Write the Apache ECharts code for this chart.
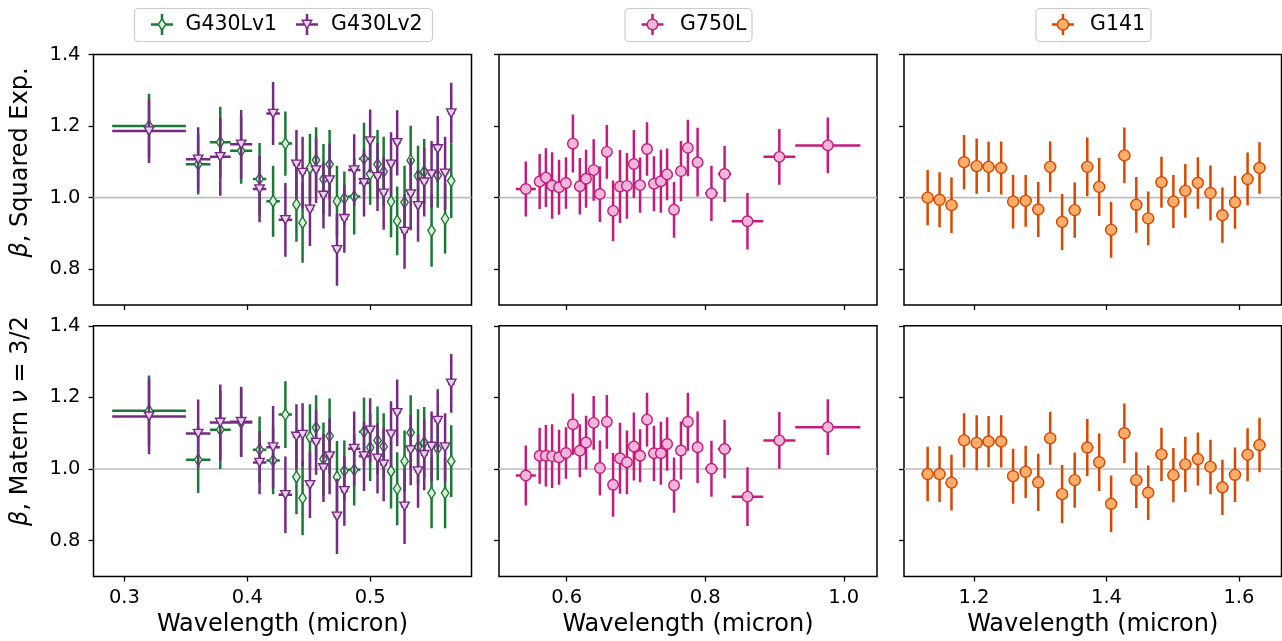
<!DOCTYPE html>
<html>
<head>
<meta charset="utf-8">
<title>Beta scaling per grating</title>
<script src="https://cdn.jsdelivr.net/npm/echarts@6/dist/echarts.min.js"></script>
<style>
  html, body { margin: 0; padding: 0; background: #fff; }
  #chart { width: 1282px; height: 641px; }
</style>
</head>
<body>
<div id="chart"></div>
<script>
// ---- Wavelength bins (micron): centres and half-widths ----
const g430Wave = [0.320, 0.360, 0.378, 0.395, 0.410, 0.421, 0.431, 0.440, 0.445, 0.451,
                  0.456, 0.462, 0.467, 0.473, 0.479, 0.487, 0.495, 0.500, 0.506, 0.511,
                  0.517, 0.522, 0.528, 0.533, 0.539, 0.544, 0.550, 0.555, 0.561, 0.566];
const g430HalfWidth = [0.030, 0.010, 0.0085, 0.009, 0.0055, 0.0055, 0.0055, 0.003, 0.0028, 0.0028,
                       0.0028, 0.0028, 0.0028, 0.0028, 0.0028, 0.005, 0.0042, 0.0027, 0.0027, 0.0027,
                       0.0027, 0.0027, 0.0027, 0.0027, 0.0027, 0.0027, 0.0027, 0.0027, 0.0027, 0.0027];

const g750Wave = [0.541, 0.561, 0.570, 0.579, 0.589, 0.599, 0.609, 0.619, 0.628, 0.639,
                  0.648, 0.658, 0.667, 0.677, 0.687, 0.697, 0.706, 0.716, 0.726, 0.736,
                  0.745, 0.755, 0.765, 0.775, 0.789, 0.809, 0.828, 0.861, 0.907, 0.977];
const g750HalfWidth = [0.0144, 0.0048, 0.0048, 0.0048, 0.0048, 0.0048, 0.0048, 0.0048, 0.0048, 0.0048,
                       0.0048, 0.0048, 0.0048, 0.0048, 0.0048, 0.0048, 0.0048, 0.0048, 0.0048, 0.0048,
                       0.0048, 0.0048, 0.0048, 0.0048, 0.0075, 0.0091, 0.0096, 0.0228, 0.023, 0.047];

const g141Wave = [1.130, 1.148, 1.166, 1.185, 1.204, 1.222, 1.241, 1.259, 1.278, 1.297,
                  1.315, 1.333, 1.352, 1.371, 1.389, 1.407, 1.427, 1.445, 1.463, 1.483,
                  1.501, 1.519, 1.538, 1.557, 1.575, 1.594, 1.613, 1.631];
const g141HalfWidth = g141Wave.map(() => 0.009);

// ---- beta, squared-exponential kernel ----
const g430v1SqBeta = [1.200, 1.093, 1.155, 1.131, 1.052, 0.990, 1.151, 0.981, 0.930, 1.083,
                      1.105, 1.052, 1.093, 0.990, 0.998, 1.003, 1.109, 1.066, 1.093, 1.073,
                      0.989, 0.935, 0.987, 1.104, 1.061, 1.073, 0.908, 1.062, 0.941, 1.047];
const g430v1SqErr  = [0.090, 0.084, 0.099, 0.092, 0.101, 0.099, 0.090, 0.104, 0.112, 0.095,
                      0.092, 0.098, 0.096, 0.099, 0.075, 0.106, 0.100, 0.086, 0.096, 0.097,
                      0.100, 0.096, 0.102, 0.097, 0.084, 0.091, 0.101, 0.090, 0.097, 0.104];
const g430v2SqBeta = [1.186, 1.107, 1.114, 1.149, 1.024, 1.235, 0.938, 1.093, 1.070, 0.967,
                      1.077, 1.006, 1.049, 0.854, 0.941, 1.077, 1.041, 1.158, 1.058, 1.012,
                      1.093, 1.153, 0.905, 1.010, 0.977, 1.043, 1.065, 1.136, 1.068, 1.236];
const g430v2SqErr  = [0.089, 0.090, 0.109, 0.096, 0.093, 0.088, 0.103, 0.096, 0.100, 0.102,
                      0.092, 0.092, 0.102, 0.100, 0.095, 0.100, 0.094, 0.088, 0.095, 0.102,
                      0.090, 0.091, 0.104, 0.101, 0.100, 0.096, 0.093, 0.092, 0.102, 0.085];
const g750SqBeta = [1.024, 1.045, 1.056, 1.034, 1.029, 1.041, 1.151, 1.032, 1.053, 1.077,
                    1.010, 1.128, 0.963, 1.031, 1.033, 1.094, 1.035, 1.136, 1.039, 1.046,
                    1.065, 0.966, 1.074, 1.139, 1.099, 1.012, 1.066, 0.934, 1.114, 1.146];
const g750SqErr  = [0.077, 0.077, 0.082, 0.093, 0.077, 0.072, 0.081, 0.079, 0.081, 0.086,
                    0.078, 0.075, 0.085, 0.102, 0.092, 0.095, 0.077, 0.075, 0.077, 0.088,
                    0.072, 0.078, 0.084, 0.079, 0.096, 0.077, 0.078, 0.079, 0.078, 0.078];
const g141SqBeta = [1.000, 0.994, 0.979, 1.099, 1.088, 1.086, 1.083, 0.989, 0.991, 0.967,
                    1.086, 0.932, 0.965, 1.086, 1.030, 0.910, 1.118, 0.980, 0.942, 1.043,
                    0.989, 1.019, 1.041, 1.013, 0.951, 0.987, 1.052, 1.083];
const g141SqErr  = [0.077, 0.077, 0.078, 0.076, 0.077, 0.070, 0.074, 0.075, 0.072, 0.077,
                    0.071, 0.078, 0.077, 0.082, 0.081, 0.078, 0.078, 0.078, 0.075, 0.071,
                    0.074, 0.075, 0.072, 0.077, 0.077, 0.074, 0.074, 0.072];

// ---- beta, Matern nu = 3/2 kernel ----
const g430v1MatBeta = [1.163, 1.026, 1.110, 1.130, 1.054, 1.024, 1.152, 0.978, 0.919, 1.089,
                       1.116, 1.028, 1.092, 0.978, 0.995, 0.998, 1.104, 1.060, 1.080, 1.063,
                       0.994, 0.945, 1.022, 1.102, 1.062, 1.074, 0.933, 1.057, 0.933, 1.022];
const g430v1MatErr  = [0.098, 0.093, 0.110, 0.095, 0.093, 0.094, 0.093, 0.104, 0.104, 0.092,
                       0.090, 0.102, 0.105, 0.100, 0.085, 0.100, 0.096, 0.093, 0.095, 0.093,
                       0.104, 0.102, 0.086, 0.104, 0.105, 0.099, 0.098, 0.088, 0.098, 0.100];
const g430v2MatBeta = [1.147, 1.099, 1.130, 1.132, 1.018, 1.061, 0.928, 1.091, 1.096, 0.956,
                       1.074, 1.003, 1.036, 0.868, 0.939, 1.057, 1.036, 1.108, 1.030, 1.013,
                       1.097, 1.157, 0.896, 1.053, 0.994, 1.040, 1.063, 1.135, 1.061, 1.239];
const g430v2MatErr  = [0.106, 0.095, 0.106, 0.098, 0.088, 0.115, 0.107, 0.090, 0.088, 0.093,
                       0.090, 0.095, 0.106, 0.105, 0.097, 0.104, 0.097, 0.090, 0.098, 0.103,
                       0.092, 0.093, 0.105, 0.098, 0.102, 0.099, 0.098, 0.088, 0.095, 0.082];
const g750MatBeta = [0.982, 1.037, 1.037, 1.036, 1.033, 1.045, 1.125, 1.051, 1.074, 1.129,
                     1.003, 1.132, 0.956, 1.030, 1.019, 1.063, 1.037, 1.138, 1.044, 1.044,
                     1.070, 0.955, 1.052, 1.132, 1.061, 1.001, 1.056, 0.923, 1.080, 1.117];
const g750MatErr  = [0.084, 0.078, 0.086, 0.089, 0.077, 0.072, 0.086, 0.074, 0.075, 0.075,
                     0.077, 0.075, 0.089, 0.099, 0.089, 0.095, 0.074, 0.075, 0.077, 0.088,
                     0.075, 0.077, 0.081, 0.081, 0.100, 0.078, 0.082, 0.082, 0.079, 0.078];
const g141MatBeta = [0.986, 0.986, 0.962, 1.080, 1.073, 1.077, 1.077, 0.980, 0.992, 0.963,
                     1.086, 0.930, 0.969, 1.060, 1.019, 0.903, 1.100, 0.969, 0.934, 1.041,
                     0.983, 1.013, 1.028, 1.006, 0.949, 0.984, 1.040, 1.067];
const g141MatErr  = [0.076, 0.078, 0.078, 0.076, 0.077, 0.071, 0.073, 0.077, 0.073, 0.080,
                     0.074, 0.081, 0.077, 0.080, 0.080, 0.079, 0.083, 0.078, 0.076, 0.074,
                     0.076, 0.077, 0.074, 0.076, 0.077, 0.076, 0.074, 0.076];

// ---- axis limits and tick labels ----
const waveLimits = [[0.2748, 0.5825], [0.5023, 1.048], [1.0943, 1.6642]];
const waveTicks = [[0.3, 0.4, 0.5], [0.6, 0.8, 1.0], [1.2, 1.4, 1.6]];
const betaLimits = [0.7, 1.4];
const betaTicks = [0.8, 1.0, 1.2, 1.4];
const referenceLevel = 1.0;
const rowLabels = ['Squared Exp.', 'Matern '];
const waveLabel = 'Wavelength (micron)';

// ---- layout ----
const FONT = 'DejaVu Sans';
const BAR_WIDTH = 2.5;
const colBoxes = [{ left: 93.5, width: 378 }, { left: 499, width: 378 }, { left: 904, width: 377.5 }];
const rowBoxes = [{ top: 54.5, height: 250.5 }, { top: 325.8, height: 250.7 }];

const styles = {
  g430v1: { line: '#1b7837', face: '#d9f0d3', symbol: 'diamond', size: [7.5, 11.5], rotate: 0 },
  g430v2: { line: '#762a83', face: '#e7d4e8', symbol: 'triangle', size: [9.5, 8.5], rotate: 180 },
  g750:   { line: '#c51b7d', face: '#f1b6da', symbol: 'circle', size: 10.5, rotate: 0 },
  g141:   { line: '#d94801', face: '#fdae6b', symbol: 'circle', size: 11, rotate: 0 }
};

const grids = [], xAxes = [], yAxes = [], series = [];
for (let r = 0; r < 2; r++) {
  for (let c = 0; c < 3; c++) {
    const idx = r * 3 + c;
    grids.push({
      left: colBoxes[c].left, width: colBoxes[c].width,
      top: rowBoxes[r].top, height: rowBoxes[r].height,
      show: true, borderColor: '#000', borderWidth: 1.5, backgroundColor: 'transparent',
      containLabel: false
    });
    xAxes.push({
      gridIndex: idx, type: 'value',
      min: waveLimits[c][0], max: waveLimits[c][1],
      axisLine: { show: false },
      splitLine: { show: false },
      axisTick: { show: true, length: 5, customValues: waveTicks[c], lineStyle: { color: '#000', width: 1.3 } },
      axisLabel: {
        show: r === 1, customValues: waveTicks[c], margin: 11,
        formatter: v => Number(v).toFixed(1),
        fontFamily: FONT, fontSize: 19.5, color: '#000'
      },
      name: r === 1 ? waveLabel : '',
      nameLocation: 'middle', nameGap: 36,
      nameTextStyle: { fontFamily: FONT, fontSize: 24, color: '#000' }
    });
    yAxes.push({
      gridIndex: idx, type: 'value',
      min: betaLimits[0], max: betaLimits[1],
      axisLine: { show: false },
      splitLine: { show: false },
      axisTick: { show: true, length: 5, customValues: betaTicks, lineStyle: { color: '#000', width: 1.3 } },
      axisLabel: {
        show: c === 0, customValues: betaTicks, margin: 13,
        formatter: v => Number(v).toFixed(1),
        fontFamily: FONT, fontSize: 19.5, color: '#000'
      }
    });
    // horizontal reference line at beta = 1
    series.push({
      type: 'custom', xAxisIndex: idx, yAxisIndex: idx, z: 1, silent: true,
      data: [[waveLimits[c][0], referenceLevel]],
      renderItem: (params, api) => {
        const cs = params.coordSys;
        const y = api.coord([api.value(0), api.value(1)])[1];
        return { type: 'line', shape: { x1: cs.x, y1: y, x2: cs.x + cs.width, y2: y },
                 style: { stroke: '#bdbdbd', lineWidth: 1.6 } };
      }
    });
  }
}

function addErrorSet(idx, xs, xe, ys, ye, st, zBase) {
  series.push({
    type: 'custom', xAxisIndex: idx, yAxisIndex: idx, z: zBase, silent: true, clip: true,
    data: xs.map((x, i) => [x, ys[i], xe[i], ye[i]]),
    encode: { x: 0, y: 1 },
    renderItem: (params, api) => {
      const x = api.value(0), y = api.value(1), dx = api.value(2), dy = api.value(3);
      const c = api.coord([x, y]);
      const lft = api.coord([x - dx, y]), rgt = api.coord([x + dx, y]);
      const top = api.coord([x, y + dy]), bot = api.coord([x, y - dy]);
      const ls = { stroke: st.line, lineWidth: BAR_WIDTH };
      return { type: 'group', children: [
        { type: 'line', shape: { x1: lft[0], y1: c[1], x2: rgt[0], y2: c[1] }, style: ls },
        { type: 'line', shape: { x1: c[0], y1: top[1], x2: c[0], y2: bot[1] }, style: ls }
      ] };
    }
  });
  series.push({
    type: 'scatter', xAxisIndex: idx, yAxisIndex: idx, z: zBase + 1, silent: true,
    data: xs.map((x, i) => [x, ys[i]]),
    symbol: st.symbol, symbolSize: st.size, symbolRotate: st.rotate,
    itemStyle: { color: st.face, borderColor: st.line, borderWidth: 1.4, opacity: 1 },
    emphasis: { disabled: true }
  });
}

addErrorSet(0, g430Wave, g430HalfWidth, g430v1SqBeta, g430v1SqErr, styles.g430v1, 2);
addErrorSet(0, g430Wave, g430HalfWidth, g430v2SqBeta, g430v2SqErr, styles.g430v2, 4);
addErrorSet(1, g750Wave, g750HalfWidth, g750SqBeta, g750SqErr, styles.g750, 2);
addErrorSet(2, g141Wave, g141HalfWidth, g141SqBeta, g141SqErr, styles.g141, 2);
addErrorSet(3, g430Wave, g430HalfWidth, g430v1MatBeta, g430v1MatErr, styles.g430v1, 2);
addErrorSet(3, g430Wave, g430HalfWidth, g430v2MatBeta, g430v2MatErr, styles.g430v2, 4);
addErrorSet(4, g750Wave, g750HalfWidth, g750MatBeta, g750MatErr, styles.g750, 2);
addErrorSet(5, g141Wave, g141HalfWidth, g141MatBeta, g141MatErr, styles.g141, 2);

// ---- legend handles: error cross with the marker in the middle ----
function markerShape(st, cx, cy) {
  const stroke = { fill: st.face, stroke: st.line, lineWidth: 1.4 };
  if (st.symbol === 'circle') {
    return { type: 'circle', shape: { cx, cy, r: st.size / 2 }, style: stroke };
  }
  const w = st.size[0] / 2, h = st.size[1] / 2;
  if (st.symbol === 'diamond') {
    return { type: 'polygon', shape: { points: [[cx, cy - h], [cx + w, cy], [cx, cy + h], [cx - w, cy]] }, style: stroke };
  }
  return { type: 'polygon', shape: { points: [[cx - w, cy - h], [cx + w, cy - h], [cx, cy + h]] }, style: stroke };
}
function handle(st, cx, cy) {
  const ls = { stroke: st.line, lineWidth: BAR_WIDTH };
  return [
    { type: 'line', shape: { x1: cx - 11, y1: cy, x2: cx + 11, y2: cy }, style: ls },
    { type: 'line', shape: { x1: cx, y1: cy - 10.5, x2: cx, y2: cy + 10.5 }, style: ls },
    markerShape(st, cx, cy)
  ];
}
function legendText(txt, x, y) {
  return { type: 'text', x, y, style: { text: txt, fontFamily: FONT, fontSize: 20.5, fill: '#000',
           textAlign: 'left', textVerticalAlign: 'middle' } };
}
function legendBox(x, w) {
  return { type: 'rect', shape: { x, y: 8.5, width: w, height: 33, r: 4 },
           style: { fill: '#fff', stroke: '#cccccc', lineWidth: 1.2 } };
}
const LY = 24.5;
const graphic = [
  legendBox(134.5, 298),
  ...handle(styles.g430v1, 162, LY), legendText('G430Lv1', 185.5, LY + 0.5),
  ...handle(styles.g430v2, 307, LY), legendText('G430Lv2', 331, LY + 0.5),
  legendBox(625, 127),
  ...handle(styles.g750, 652.5, LY), legendText('G750L', 680, LY + 0.5),
  legendBox(1036, 115),
  ...handle(styles.g141, 1063, LY), legendText('G141', 1090, LY + 0.5),
  // row labels (rotated)
  { type: 'text', x: 21, y: 162.5, rotation: Math.PI / 2,
    style: { text: '{i|β}, ' + rowLabels[0], fontFamily: FONT, fontSize: 24, fill: '#000',
             textAlign: 'center', textVerticalAlign: 'middle',
             rich: { i: { fontStyle: 'italic', fontFamily: FONT, fontSize: 24 } } } },
  { type: 'text', x: 21, y: 421, rotation: Math.PI / 2,
    style: { text: '{i|β}, ' + rowLabels[1] + '{i|ν} = 3/2', fontFamily: FONT, fontSize: 24, fill: '#000',
             textAlign: 'center', textVerticalAlign: 'middle',
             rich: { i: { fontStyle: 'italic', fontFamily: FONT, fontSize: 24 } } } }
];

const chart = echarts.init(document.getElementById('chart'), null, { renderer: 'canvas' });
chart.setOption({
  animation: false,
  backgroundColor: '#fff',
  textStyle: { fontFamily: FONT },
  grid: grids, xAxis: xAxes, yAxis: yAxes,
  series, graphic
});
</script>
</body>
</html>
